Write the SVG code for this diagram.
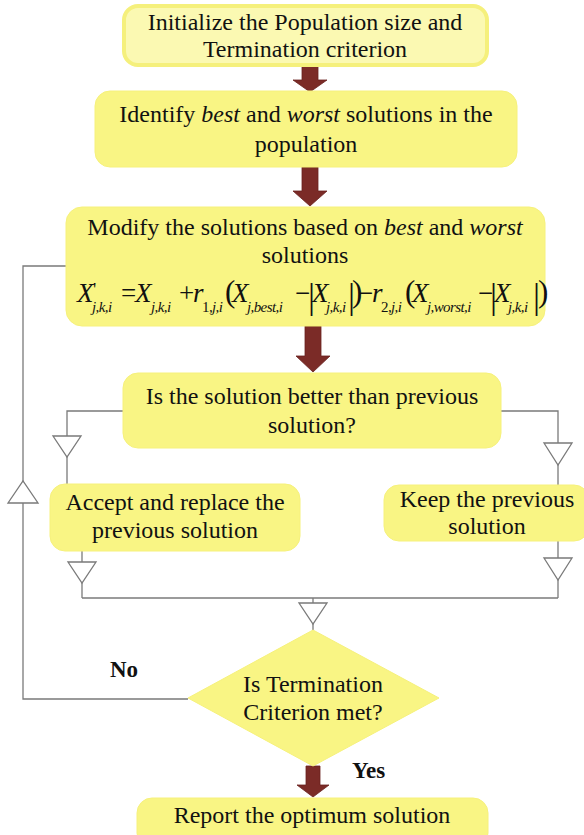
<svg xmlns="http://www.w3.org/2000/svg" width="584" height="835" viewBox="0 0 584 835">
<style>
text{font-family:"Liberation Serif","Times New Roman",serif;fill:#111}
.box{fill:#F9F584;stroke:#F6F17C;stroke-width:1}
.box1{fill:#FBF9B2;stroke:#F5F07C;stroke-width:4}
.t{font-size:24px;text-anchor:middle}
.lbl{font-size:23px;font-weight:bold}
.fx{font-size:27px;font-style:italic}
.fr{font-size:27px;font-style:normal}
.fs{font-size:15px;font-style:italic;letter-spacing:-0.6px}
.fb{font-size:35px;font-style:normal}
.fp{font-size:31px;font-style:normal}
.arrow{fill:#7B2B27;stroke:#6A221F;stroke-width:0.8}
.ln{fill:none;stroke:#7a7a7a;stroke-width:1.3}
.tri{fill:#fff;stroke:#7a7a7a;stroke-width:1.3}
</style>

<g id="connectors">
  <path class="ln" d="M123,411 H67 V485"/>
  <path class="ln" d="M501,411 H558 V485"/>
  <path class="ln" d="M82,551 V598"/>
  <path class="ln" d="M558,541 V598"/>
  <path class="ln" d="M82,598 H558"/>
  <path class="ln" d="M313,598 V630"/>
  <path class="ln" d="M188,699 H23 V266 H67"/>
  <polygon class="tri" points="53,436 81,436 67,457"/>
  <polygon class="tri" points="544,443 572,443 558,465"/>
  <polygon class="tri" points="8,503 38,503 23,481"/>
  <polygon class="tri" points="68,562 96,562 82,583"/>
  <polygon class="tri" points="544,558 572,558 558,580"/>
  <polygon class="tri" points="299,603 327,603 313,624"/>
  <polygon class="arrow" points="302,66 318,66 318,80 327,80 310,92 293,80 302,80"/>
  <polygon class="arrow" points="302,167 318,167 318,191 327,191 310,206 293,191 302,191"/>
  <polygon class="arrow" points="305,326 321,326 321,356 330,356 313,372 296,356 305,356"/>
  <polygon class="arrow" points="306,766 320,766 320,785 329,785 313,797 297,785 306,785"/>
</g>

<g id="n1">
  <rect class="box1" x="124" y="6" width="363" height="59" rx="14"/>
  <text class="t" x="305" y="30">Initialize the Population size and</text>
  <text class="t" x="305" y="57">Termination criterion</text>
</g>

<g id="n2">
  <rect class="box" x="95" y="91" width="422" height="76" rx="15"/>
  <text class="t" x="306" y="122">Identify <tspan font-style="italic">best</tspan> and <tspan font-style="italic">worst</tspan> solutions in the</text>
  <text class="t" x="306" y="152">population</text>
</g>

<g id="n3">
  <rect class="box" x="66" y="207" width="479" height="119" rx="16"/>
  <text class="t" x="305" y="235">Modify the solutions based on <tspan font-style="italic">best</tspan> and <tspan font-style="italic">worst</tspan></text>
  <text class="t" x="305" y="263">solutions</text>
  <text><tspan class="fx" x="77" y="302">X</tspan><tspan class="fr" x="93" y="296" style="font-size:18px">'</tspan><tspan class="fs" x="92" y="312">j,k,i</tspan><tspan class="fr" x="121" y="302">=</tspan><tspan class="fx" x="135" y="302">X</tspan><tspan class="fs" x="151" y="312">j,k,i</tspan><tspan class="fr" x="179" y="302">+</tspan><tspan class="fx" x="193" y="302">r</tspan><tspan class="fs" x="202" y="312"><tspan style="font-style:normal">1</tspan>,j,i</tspan><tspan class="fp" x="225" y="302">(</tspan><tspan class="fx" x="232" y="302">X</tspan><tspan class="fs" x="247" y="312">j,best,i</tspan><tspan class="fr" x="295" y="302">−</tspan><tspan class="fb" x="308" y="308">|</tspan><tspan class="fx" x="312" y="302">X</tspan><tspan class="fs" x="326" y="312">j,k,i</tspan><tspan class="fb" x="348" y="308">|</tspan><tspan class="fp" x="352" y="302">)</tspan><tspan class="fr" x="358" y="302">−</tspan><tspan class="fx" x="372" y="302">r</tspan><tspan class="fs" x="381" y="312"><tspan style="font-style:normal">2</tspan>,j,i</tspan><tspan class="fp" x="405" y="302">(</tspan><tspan class="fx" x="412" y="302">X</tspan><tspan class="fs" x="427" y="312">j,worst,i</tspan><tspan class="fr" x="478" y="302">−</tspan><tspan class="fb" x="490" y="308">|</tspan><tspan class="fx" x="494" y="302">X</tspan><tspan class="fs" x="508" y="312">j,k,i</tspan><tspan class="fb" x="533" y="308">|</tspan><tspan class="fp" x="538" y="302">)</tspan></text>
</g>

<g id="n4">
  <rect class="box" x="123" y="373" width="378" height="75" rx="15"/>
  <text class="t" x="312" y="404">Is the solution better than previous</text>
  <text class="t" x="312" y="433">solution?</text>
</g>

<g id="n5">
  <rect class="box" x="50" y="484" width="250" height="67" rx="15"/>
  <text class="t" x="175" y="510">Accept and replace the</text>
  <text class="t" x="175" y="538">previous solution</text>
</g>

<g id="n6">
  <rect class="box" x="384" y="485" width="205" height="56" rx="15"/>
  <text class="t" x="487" y="507">Keep the previous</text>
  <text class="t" x="487" y="534">solution</text>
</g>

<g id="n7">
  <polygon class="box" points="313,630 439,698 313,766 188,698"/>
  <text class="t" x="313" y="692">Is Termination</text>
  <text class="t" x="313" y="720">Criterion met?</text>
</g>

<g id="labels">
  <text class="lbl" x="110" y="677">No</text>
  <text class="lbl" x="352" y="778">Yes</text>
</g>

<g id="n8">
  <rect class="box" x="137" y="798" width="351" height="50" rx="15"/>
  <text class="t" x="312" y="823">Report the optimum solution</text>
</g>
</svg>
